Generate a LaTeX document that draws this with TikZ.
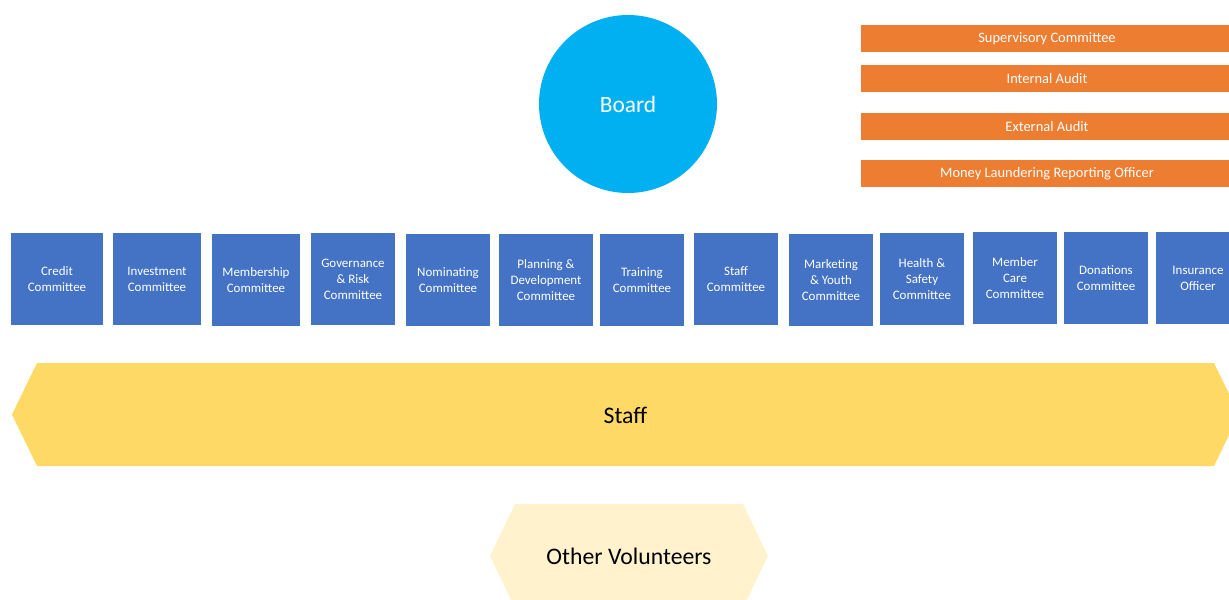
\documentclass[tikz,border=0pt]{standalone}
\usepackage{fontspec}
\setmainfont{Carlito}
\definecolor{boardblue}{HTML}{00B0F0}
\definecolor{cmtblue}{HTML}{4472C4}
\definecolor{auditorange}{HTML}{ED7D31}
\definecolor{staffgold}{HTML}{FFD966}
\definecolor{volcream}{HTML}{FFF2CC}
\tikzset{
  cmt/.style={fill=cmtblue, text=white, inner sep=0pt, align=center,
    font=\fontsize{13}{16}\selectfont},
  audit/.style={fill=auditorange, text=white, inner sep=0pt,
    minimum width=372bp, minimum height=27bp, font=\fontsize{14.5}{17}\selectfont},
  bigtext/.style={font=\fontsize{23.8}{28}\selectfont, inner sep=0pt},
}
\begin{document}
\begin{tikzpicture}[x=1bp, y=-1bp]
\useasboundingbox (0,0) rectangle (1229,600);
\clip (0,0) rectangle (1229,600);

% board
\node[circle, fill=boardblue, minimum size=178bp, inner sep=0pt, text=white,
  font=\fontsize{23.5}{28}\selectfont] (board) at (628,104) {Board};

% oversight functions (label nudged slightly below box centre)
\node[audit] (super) at (1047,38.5) {\raisebox{-1bp}{Supervisory Committee}};
\node[audit] (intaudit) at (1047,78.5) {\raisebox{-1bp}{Internal Audit}};
\node[audit] (extaudit) at (1047,126.5) {\raisebox{-1bp}{External Audit}};
\node[audit] (mlro) at (1047,173.5) {\raisebox{-1bp}{Money Laundering Reporting Officer}};

% committees
\node[cmt, minimum width=92bp, minimum height=92bp] (credit) at (57,279) {Credit\\Committee};
\node[cmt, minimum width=88bp, minimum height=92bp] (invest) at (157,279) {Investment\\Committee};
\node[cmt, minimum width=88bp, minimum height=92bp] (member) at (256,280) {Membership\\Committee};
\node[cmt, minimum width=84bp, minimum height=92bp] (gov) at (353,279) {Governance\\\& Risk\\Committee};
\node[cmt, minimum width=84bp, minimum height=92bp] (nom) at (448,280) {Nominating\\Committee};
\node[cmt, minimum width=94bp, minimum height=92bp] (plan) at (546,280) {Planning \&\\Development\\Committee};
\node[cmt, minimum width=84bp, minimum height=92bp] (train) at (642,280) {Training\\Committee};
\node[cmt, minimum width=84bp, minimum height=92bp] (staffc) at (736,279) {Staff\\Committee};
\node[cmt, minimum width=84bp, minimum height=92bp] (market) at (831,280) {Marketing\\\& Youth\\Committee};
\node[cmt, minimum width=84bp, minimum height=92bp] (health) at (922,279) {Health \&\\Safety\\Committee};
\node[cmt, minimum width=84bp, minimum height=92bp] (care) at (1015,278) {Member\\Care\\Committee};
\node[cmt, minimum width=84bp, minimum height=92bp] (donate) at (1106,278) {Donations\\Committee};
\node[cmt, minimum width=84bp, minimum height=92bp] (insure) at (1198,278) {Insurance\\Officer};

% staff band
\fill[staffgold] (37,363) -- (1214,363) -- (1239,414.5) -- (1214,466)
  -- (37,466) -- (12,414.5) -- cycle;
\node[bigtext] (staff) at (625.5,415) {Staff};

% other volunteers
\fill[volcream] (515,504) -- (743,504) -- (768,556) -- (743,608)
  -- (515,608) -- (490,556) -- cycle;
\node[bigtext] (vol) at (629,556) {Other Volunteers};
\end{tikzpicture}
\end{document}
